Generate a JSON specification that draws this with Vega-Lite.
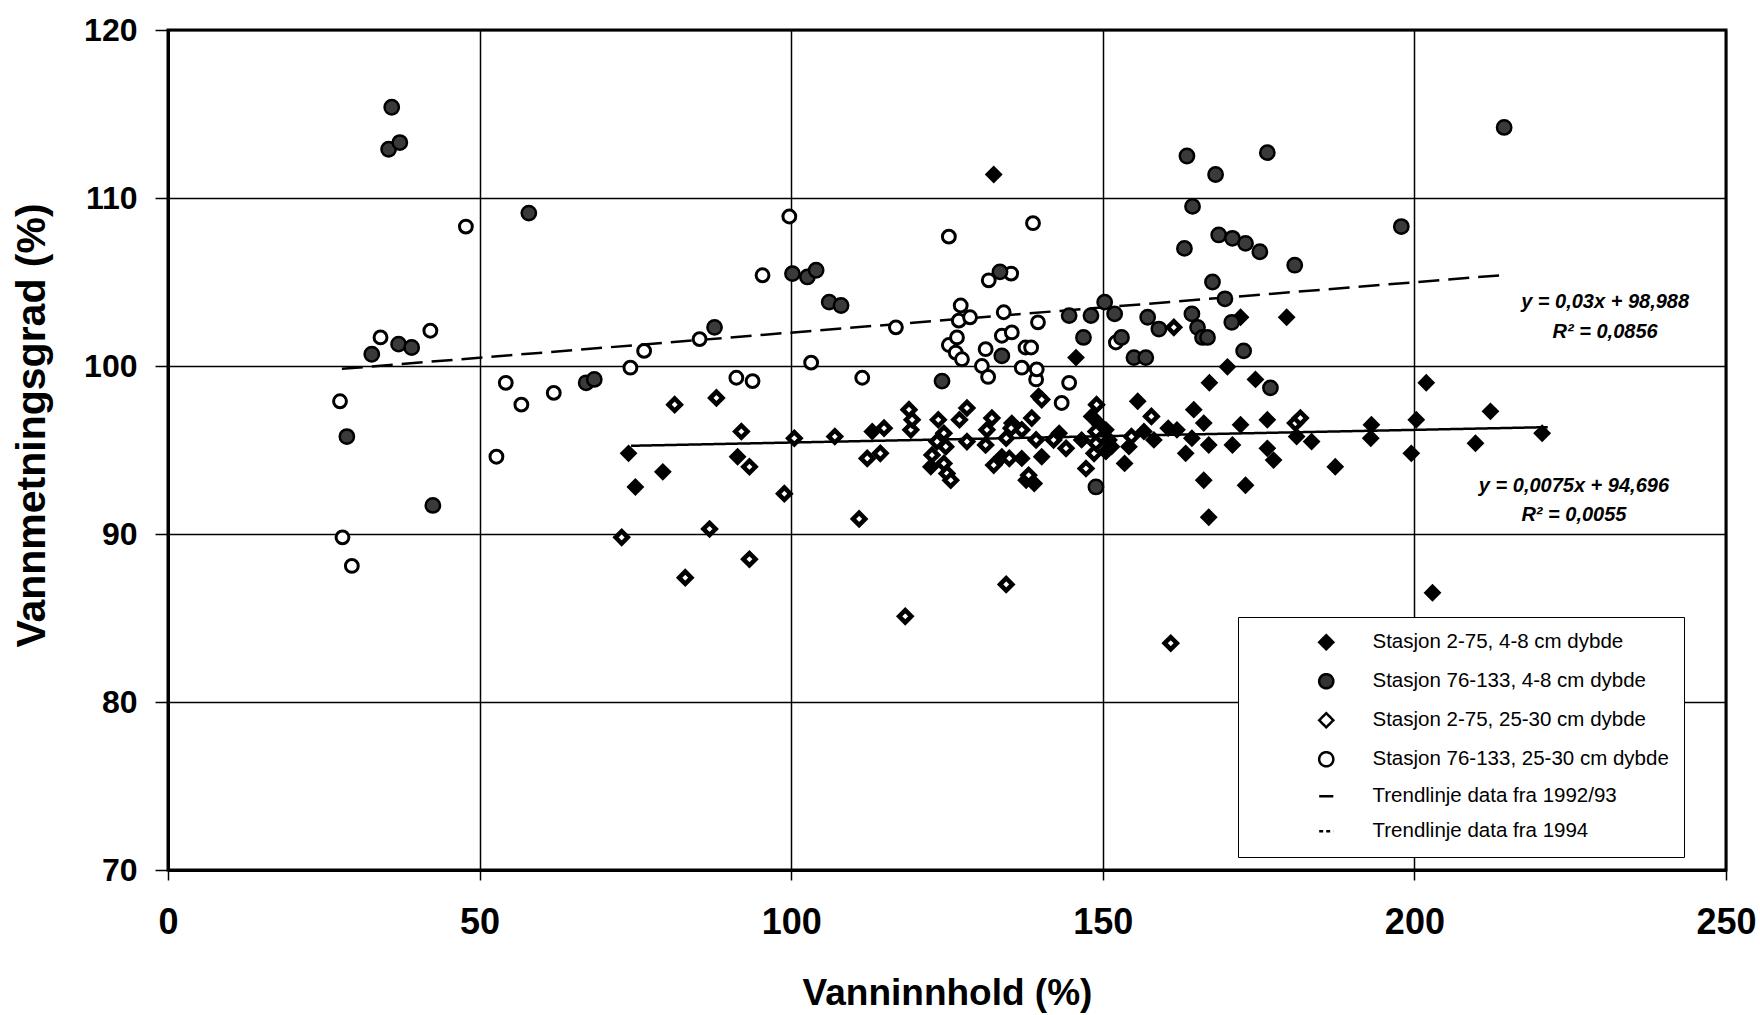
{
  "$schema": "https://vega.github.io/schema/vega-lite/v6.json",
  "width": 1558,
  "height": 840,
  "autosize": "none",
  "padding": {"left": 168, "top": 30, "right": 34, "bottom": 145},
  "background": "white",
  "config": {
    "font": "Liberation Sans",
    "view": {"stroke": "black", "strokeWidth": 3}
  },
  "datasets": {
    "eq": [
      {"eq": "y = 0,03x + 98,988", "x": 230.6, "y": 103.8},
      {"eq": "R² = 0,0856", "x": 230.6, "y": 102.0},
      {"eq": "y = 0,0075x + 94,696", "x": 225.6, "y": 92.86},
      {"eq": "R² = 0,0055", "x": 225.6, "y": 91.13}
    ],
    "trend": [
      {"serie": "Trendlinje data fra 1992/93", "x": 74.3, "y": 95.25},
      {"serie": "Trendlinje data fra 1992/93", "x": 221.4, "y": 96.36},
      {"serie": "Trendlinje data fra 1994", "x": 27.9, "y": 99.83},
      {"serie": "Trendlinje data fra 1994", "x": 214.5, "y": 105.42}
    ],
    "pts": [
      {"serie": "Stasjon 2-75, 4-8 cm dybde", "x": 73.9, "y": 94.8},
      {"serie": "Stasjon 2-75, 4-8 cm dybde", "x": 75.0, "y": 92.8},
      {"serie": "Stasjon 2-75, 4-8 cm dybde", "x": 79.4, "y": 93.7},
      {"serie": "Stasjon 2-75, 4-8 cm dybde", "x": 91.4, "y": 94.6},
      {"serie": "Stasjon 2-75, 4-8 cm dybde", "x": 113.0, "y": 96.1},
      {"serie": "Stasjon 2-75, 4-8 cm dybde", "x": 122.4, "y": 94.0},
      {"serie": "Stasjon 2-75, 4-8 cm dybde", "x": 132.5, "y": 111.4},
      {"serie": "Stasjon 2-75, 4-8 cm dybde", "x": 133.8, "y": 94.6},
      {"serie": "Stasjon 2-75, 4-8 cm dybde", "x": 135.4, "y": 96.6},
      {"serie": "Stasjon 2-75, 4-8 cm dybde", "x": 137.0, "y": 94.5},
      {"serie": "Stasjon 2-75, 4-8 cm dybde", "x": 137.7, "y": 93.2},
      {"serie": "Stasjon 2-75, 4-8 cm dybde", "x": 139.0, "y": 93.0},
      {"serie": "Stasjon 2-75, 4-8 cm dybde", "x": 140.2, "y": 94.6},
      {"serie": "Stasjon 2-75, 4-8 cm dybde", "x": 139.7, "y": 98.2},
      {"serie": "Stasjon 2-75, 4-8 cm dybde", "x": 143.0, "y": 96.0},
      {"serie": "Stasjon 2-75, 4-8 cm dybde", "x": 145.7, "y": 100.5},
      {"serie": "Stasjon 2-75, 4-8 cm dybde", "x": 146.6, "y": 95.6},
      {"serie": "Stasjon 2-75, 4-8 cm dybde", "x": 148.2, "y": 97.0},
      {"serie": "Stasjon 2-75, 4-8 cm dybde", "x": 149.5, "y": 96.5},
      {"serie": "Stasjon 2-75, 4-8 cm dybde", "x": 150.5, "y": 96.2},
      {"serie": "Stasjon 2-75, 4-8 cm dybde", "x": 151.0, "y": 95.6},
      {"serie": "Stasjon 2-75, 4-8 cm dybde", "x": 151.4, "y": 95.2},
      {"serie": "Stasjon 2-75, 4-8 cm dybde", "x": 150.5, "y": 94.9},
      {"serie": "Stasjon 2-75, 4-8 cm dybde", "x": 153.5, "y": 94.2},
      {"serie": "Stasjon 2-75, 4-8 cm dybde", "x": 154.2, "y": 95.2},
      {"serie": "Stasjon 2-75, 4-8 cm dybde", "x": 155.6, "y": 97.9},
      {"serie": "Stasjon 2-75, 4-8 cm dybde", "x": 156.6, "y": 96.1},
      {"serie": "Stasjon 2-75, 4-8 cm dybde", "x": 158.2, "y": 95.6},
      {"serie": "Stasjon 2-75, 4-8 cm dybde", "x": 160.5, "y": 96.3},
      {"serie": "Stasjon 2-75, 4-8 cm dybde", "x": 161.9, "y": 96.2},
      {"serie": "Stasjon 2-75, 4-8 cm dybde", "x": 163.3, "y": 94.8},
      {"serie": "Stasjon 2-75, 4-8 cm dybde", "x": 164.3, "y": 95.7},
      {"serie": "Stasjon 2-75, 4-8 cm dybde", "x": 164.6, "y": 97.4},
      {"serie": "Stasjon 2-75, 4-8 cm dybde", "x": 166.2, "y": 96.6},
      {"serie": "Stasjon 2-75, 4-8 cm dybde", "x": 166.2, "y": 93.2},
      {"serie": "Stasjon 2-75, 4-8 cm dybde", "x": 167.0, "y": 95.3},
      {"serie": "Stasjon 2-75, 4-8 cm dybde", "x": 167.0, "y": 91.0},
      {"serie": "Stasjon 2-75, 4-8 cm dybde", "x": 167.1, "y": 99.0},
      {"serie": "Stasjon 2-75, 4-8 cm dybde", "x": 170.0, "y": 99.95},
      {"serie": "Stasjon 2-75, 4-8 cm dybde", "x": 170.8, "y": 95.3},
      {"serie": "Stasjon 2-75, 4-8 cm dybde", "x": 172.1, "y": 96.5},
      {"serie": "Stasjon 2-75, 4-8 cm dybde", "x": 172.1, "y": 102.9},
      {"serie": "Stasjon 2-75, 4-8 cm dybde", "x": 172.9, "y": 92.9},
      {"serie": "Stasjon 2-75, 4-8 cm dybde", "x": 174.5, "y": 99.2},
      {"serie": "Stasjon 2-75, 4-8 cm dybde", "x": 176.4, "y": 96.8},
      {"serie": "Stasjon 2-75, 4-8 cm dybde", "x": 176.4, "y": 95.1},
      {"serie": "Stasjon 2-75, 4-8 cm dybde", "x": 177.4, "y": 94.4},
      {"serie": "Stasjon 2-75, 4-8 cm dybde", "x": 179.5, "y": 102.9},
      {"serie": "Stasjon 2-75, 4-8 cm dybde", "x": 181.1, "y": 95.8},
      {"serie": "Stasjon 2-75, 4-8 cm dybde", "x": 183.5, "y": 95.5},
      {"serie": "Stasjon 2-75, 4-8 cm dybde", "x": 187.3, "y": 94.0},
      {"serie": "Stasjon 2-75, 4-8 cm dybde", "x": 193.0, "y": 95.7},
      {"serie": "Stasjon 2-75, 4-8 cm dybde", "x": 193.1, "y": 96.5},
      {"serie": "Stasjon 2-75, 4-8 cm dybde", "x": 199.5, "y": 94.8},
      {"serie": "Stasjon 2-75, 4-8 cm dybde", "x": 200.3, "y": 96.8},
      {"serie": "Stasjon 2-75, 4-8 cm dybde", "x": 201.9, "y": 99.0},
      {"serie": "Stasjon 2-75, 4-8 cm dybde", "x": 202.9, "y": 86.5},
      {"serie": "Stasjon 2-75, 4-8 cm dybde", "x": 209.8, "y": 95.4},
      {"serie": "Stasjon 2-75, 4-8 cm dybde", "x": 212.2, "y": 97.3},
      {"serie": "Stasjon 2-75, 4-8 cm dybde", "x": 220.5, "y": 96.0},

      {"serie": "Stasjon 76-133, 4-8 cm dybde", "x": 28.7, "y": 95.8},
      {"serie": "Stasjon 76-133, 4-8 cm dybde", "x": 32.7, "y": 100.7},
      {"serie": "Stasjon 76-133, 4-8 cm dybde", "x": 35.4, "y": 112.9},
      {"serie": "Stasjon 76-133, 4-8 cm dybde", "x": 35.9, "y": 115.4},
      {"serie": "Stasjon 76-133, 4-8 cm dybde", "x": 37.0, "y": 101.3},
      {"serie": "Stasjon 76-133, 4-8 cm dybde", "x": 37.2, "y": 113.3},
      {"serie": "Stasjon 76-133, 4-8 cm dybde", "x": 39.1, "y": 101.1},
      {"serie": "Stasjon 76-133, 4-8 cm dybde", "x": 42.5, "y": 91.7},
      {"serie": "Stasjon 76-133, 4-8 cm dybde", "x": 57.9, "y": 109.1},
      {"serie": "Stasjon 76-133, 4-8 cm dybde", "x": 67.1, "y": 99.0},
      {"serie": "Stasjon 76-133, 4-8 cm dybde", "x": 68.4, "y": 99.2},
      {"serie": "Stasjon 76-133, 4-8 cm dybde", "x": 87.7, "y": 102.3},
      {"serie": "Stasjon 76-133, 4-8 cm dybde", "x": 100.2, "y": 105.5},
      {"serie": "Stasjon 76-133, 4-8 cm dybde", "x": 102.6, "y": 105.3},
      {"serie": "Stasjon 76-133, 4-8 cm dybde", "x": 104.0, "y": 105.7},
      {"serie": "Stasjon 76-133, 4-8 cm dybde", "x": 106.1, "y": 103.8},
      {"serie": "Stasjon 76-133, 4-8 cm dybde", "x": 108.0, "y": 103.6},
      {"serie": "Stasjon 76-133, 4-8 cm dybde", "x": 124.2, "y": 99.1},
      {"serie": "Stasjon 76-133, 4-8 cm dybde", "x": 133.5, "y": 105.6},
      {"serie": "Stasjon 76-133, 4-8 cm dybde", "x": 133.8, "y": 100.6},
      {"serie": "Stasjon 76-133, 4-8 cm dybde", "x": 144.6, "y": 103.0},
      {"serie": "Stasjon 76-133, 4-8 cm dybde", "x": 146.9, "y": 101.7},
      {"serie": "Stasjon 76-133, 4-8 cm dybde", "x": 148.1, "y": 103.0},
      {"serie": "Stasjon 76-133, 4-8 cm dybde", "x": 148.9, "y": 92.8},
      {"serie": "Stasjon 76-133, 4-8 cm dybde", "x": 150.3, "y": 103.8},
      {"serie": "Stasjon 76-133, 4-8 cm dybde", "x": 151.9, "y": 103.1},
      {"serie": "Stasjon 76-133, 4-8 cm dybde", "x": 153.0, "y": 101.7},
      {"serie": "Stasjon 76-133, 4-8 cm dybde", "x": 155.0, "y": 100.5},
      {"serie": "Stasjon 76-133, 4-8 cm dybde", "x": 156.9, "y": 100.5},
      {"serie": "Stasjon 76-133, 4-8 cm dybde", "x": 157.2, "y": 102.9},
      {"serie": "Stasjon 76-133, 4-8 cm dybde", "x": 159.0, "y": 102.2},
      {"serie": "Stasjon 76-133, 4-8 cm dybde", "x": 163.1, "y": 107.0},
      {"serie": "Stasjon 76-133, 4-8 cm dybde", "x": 163.5, "y": 112.5},
      {"serie": "Stasjon 76-133, 4-8 cm dybde", "x": 164.3, "y": 103.1},
      {"serie": "Stasjon 76-133, 4-8 cm dybde", "x": 164.4, "y": 109.5},
      {"serie": "Stasjon 76-133, 4-8 cm dybde", "x": 165.2, "y": 102.3},
      {"serie": "Stasjon 76-133, 4-8 cm dybde", "x": 166.0, "y": 101.7},
      {"serie": "Stasjon 76-133, 4-8 cm dybde", "x": 166.8, "y": 101.7},
      {"serie": "Stasjon 76-133, 4-8 cm dybde", "x": 167.6, "y": 105.0},
      {"serie": "Stasjon 76-133, 4-8 cm dybde", "x": 168.1, "y": 111.4},
      {"serie": "Stasjon 76-133, 4-8 cm dybde", "x": 168.6, "y": 107.8},
      {"serie": "Stasjon 76-133, 4-8 cm dybde", "x": 169.6, "y": 104.0},
      {"serie": "Stasjon 76-133, 4-8 cm dybde", "x": 170.7, "y": 102.6},
      {"serie": "Stasjon 76-133, 4-8 cm dybde", "x": 170.8, "y": 107.6},
      {"serie": "Stasjon 76-133, 4-8 cm dybde", "x": 172.6, "y": 100.9},
      {"serie": "Stasjon 76-133, 4-8 cm dybde", "x": 172.9, "y": 107.3},
      {"serie": "Stasjon 76-133, 4-8 cm dybde", "x": 175.2, "y": 106.8},
      {"serie": "Stasjon 76-133, 4-8 cm dybde", "x": 176.4, "y": 112.7},
      {"serie": "Stasjon 76-133, 4-8 cm dybde", "x": 176.9, "y": 98.7},
      {"serie": "Stasjon 76-133, 4-8 cm dybde", "x": 180.8, "y": 106.0},
      {"serie": "Stasjon 76-133, 4-8 cm dybde", "x": 197.9, "y": 108.3},
      {"serie": "Stasjon 76-133, 4-8 cm dybde", "x": 214.4, "y": 114.2},

      {"serie": "Stasjon 2-75, 25-30 cm dybde", "x": 72.8, "y": 89.8},
      {"serie": "Stasjon 2-75, 25-30 cm dybde", "x": 81.3, "y": 97.7},
      {"serie": "Stasjon 2-75, 25-30 cm dybde", "x": 83.0, "y": 87.4},
      {"serie": "Stasjon 2-75, 25-30 cm dybde", "x": 86.9, "y": 90.3},
      {"serie": "Stasjon 2-75, 25-30 cm dybde", "x": 88.0, "y": 98.1},
      {"serie": "Stasjon 2-75, 25-30 cm dybde", "x": 92.0, "y": 96.1},
      {"serie": "Stasjon 2-75, 25-30 cm dybde", "x": 93.3, "y": 94.0},
      {"serie": "Stasjon 2-75, 25-30 cm dybde", "x": 93.3, "y": 88.5},
      {"serie": "Stasjon 2-75, 25-30 cm dybde", "x": 98.9, "y": 92.4},
      {"serie": "Stasjon 2-75, 25-30 cm dybde", "x": 100.5, "y": 95.7},
      {"serie": "Stasjon 2-75, 25-30 cm dybde", "x": 107.0, "y": 95.8},
      {"serie": "Stasjon 2-75, 25-30 cm dybde", "x": 110.9, "y": 90.9},
      {"serie": "Stasjon 2-75, 25-30 cm dybde", "x": 112.2, "y": 94.5},
      {"serie": "Stasjon 2-75, 25-30 cm dybde", "x": 114.3, "y": 94.8},
      {"serie": "Stasjon 2-75, 25-30 cm dybde", "x": 114.9, "y": 96.3},
      {"serie": "Stasjon 2-75, 25-30 cm dybde", "x": 118.3, "y": 85.1},
      {"serie": "Stasjon 2-75, 25-30 cm dybde", "x": 118.9, "y": 97.4},
      {"serie": "Stasjon 2-75, 25-30 cm dybde", "x": 119.2, "y": 96.2},
      {"serie": "Stasjon 2-75, 25-30 cm dybde", "x": 119.4, "y": 96.8},
      {"serie": "Stasjon 2-75, 25-30 cm dybde", "x": 122.6, "y": 94.7},
      {"serie": "Stasjon 2-75, 25-30 cm dybde", "x": 123.4, "y": 95.5},
      {"serie": "Stasjon 2-75, 25-30 cm dybde", "x": 123.6, "y": 96.8},
      {"serie": "Stasjon 2-75, 25-30 cm dybde", "x": 124.5, "y": 96.0},
      {"serie": "Stasjon 2-75, 25-30 cm dybde", "x": 124.5, "y": 94.2},
      {"serie": "Stasjon 2-75, 25-30 cm dybde", "x": 124.8, "y": 95.2},
      {"serie": "Stasjon 2-75, 25-30 cm dybde", "x": 125.0, "y": 93.6},
      {"serie": "Stasjon 2-75, 25-30 cm dybde", "x": 125.6, "y": 93.2},
      {"serie": "Stasjon 2-75, 25-30 cm dybde", "x": 127.0, "y": 96.8},
      {"serie": "Stasjon 2-75, 25-30 cm dybde", "x": 128.2, "y": 97.5},
      {"serie": "Stasjon 2-75, 25-30 cm dybde", "x": 128.2, "y": 95.5},
      {"serie": "Stasjon 2-75, 25-30 cm dybde", "x": 131.2, "y": 95.3},
      {"serie": "Stasjon 2-75, 25-30 cm dybde", "x": 131.4, "y": 96.2},
      {"serie": "Stasjon 2-75, 25-30 cm dybde", "x": 132.2, "y": 96.9},
      {"serie": "Stasjon 2-75, 25-30 cm dybde", "x": 132.5, "y": 94.1},
      {"serie": "Stasjon 2-75, 25-30 cm dybde", "x": 134.5, "y": 95.7},
      {"serie": "Stasjon 2-75, 25-30 cm dybde", "x": 134.5, "y": 87.0},
      {"serie": "Stasjon 2-75, 25-30 cm dybde", "x": 135.0, "y": 94.5},
      {"serie": "Stasjon 2-75, 25-30 cm dybde", "x": 135.3, "y": 96.3},
      {"serie": "Stasjon 2-75, 25-30 cm dybde", "x": 137.0, "y": 96.2},
      {"serie": "Stasjon 2-75, 25-30 cm dybde", "x": 138.1, "y": 93.5},
      {"serie": "Stasjon 2-75, 25-30 cm dybde", "x": 138.6, "y": 96.9},
      {"serie": "Stasjon 2-75, 25-30 cm dybde", "x": 139.3, "y": 95.6},
      {"serie": "Stasjon 2-75, 25-30 cm dybde", "x": 140.2, "y": 98.0},
      {"serie": "Stasjon 2-75, 25-30 cm dybde", "x": 142.1, "y": 95.6},
      {"serie": "Stasjon 2-75, 25-30 cm dybde", "x": 144.1, "y": 95.1},
      {"serie": "Stasjon 2-75, 25-30 cm dybde", "x": 147.3, "y": 93.9},
      {"serie": "Stasjon 2-75, 25-30 cm dybde", "x": 148.6, "y": 94.8},
      {"serie": "Stasjon 2-75, 25-30 cm dybde", "x": 148.9, "y": 96.1},
      {"serie": "Stasjon 2-75, 25-30 cm dybde", "x": 148.9, "y": 95.4},
      {"serie": "Stasjon 2-75, 25-30 cm dybde", "x": 149.0, "y": 97.7},
      {"serie": "Stasjon 2-75, 25-30 cm dybde", "x": 154.6, "y": 95.8},
      {"serie": "Stasjon 2-75, 25-30 cm dybde", "x": 157.8, "y": 97.0},
      {"serie": "Stasjon 2-75, 25-30 cm dybde", "x": 160.9, "y": 83.5},
      {"serie": "Stasjon 2-75, 25-30 cm dybde", "x": 161.4, "y": 102.3},
      {"serie": "Stasjon 2-75, 25-30 cm dybde", "x": 180.9, "y": 96.6},
      {"serie": "Stasjon 2-75, 25-30 cm dybde", "x": 181.7, "y": 96.9},

      {"serie": "Stasjon 76-133, 25-30 cm dybde", "x": 27.6, "y": 97.9},
      {"serie": "Stasjon 76-133, 25-30 cm dybde", "x": 28.0, "y": 89.8},
      {"serie": "Stasjon 76-133, 25-30 cm dybde", "x": 29.5, "y": 88.1},
      {"serie": "Stasjon 76-133, 25-30 cm dybde", "x": 34.1, "y": 101.7},
      {"serie": "Stasjon 76-133, 25-30 cm dybde", "x": 42.1, "y": 102.1},
      {"serie": "Stasjon 76-133, 25-30 cm dybde", "x": 47.8, "y": 108.3},
      {"serie": "Stasjon 76-133, 25-30 cm dybde", "x": 52.7, "y": 94.6},
      {"serie": "Stasjon 76-133, 25-30 cm dybde", "x": 54.2, "y": 99.0},
      {"serie": "Stasjon 76-133, 25-30 cm dybde", "x": 56.7, "y": 97.7},
      {"serie": "Stasjon 76-133, 25-30 cm dybde", "x": 61.9, "y": 98.4},
      {"serie": "Stasjon 76-133, 25-30 cm dybde", "x": 74.2, "y": 99.9},
      {"serie": "Stasjon 76-133, 25-30 cm dybde", "x": 76.4, "y": 100.9},
      {"serie": "Stasjon 76-133, 25-30 cm dybde", "x": 85.3, "y": 101.6},
      {"serie": "Stasjon 76-133, 25-30 cm dybde", "x": 91.2, "y": 99.3},
      {"serie": "Stasjon 76-133, 25-30 cm dybde", "x": 93.8, "y": 99.1},
      {"serie": "Stasjon 76-133, 25-30 cm dybde", "x": 95.4, "y": 105.4},
      {"serie": "Stasjon 76-133, 25-30 cm dybde", "x": 99.7, "y": 108.9},
      {"serie": "Stasjon 76-133, 25-30 cm dybde", "x": 103.2, "y": 100.2},
      {"serie": "Stasjon 76-133, 25-30 cm dybde", "x": 111.4, "y": 99.3},
      {"serie": "Stasjon 76-133, 25-30 cm dybde", "x": 116.8, "y": 102.3},
      {"serie": "Stasjon 76-133, 25-30 cm dybde", "x": 125.3, "y": 107.7},
      {"serie": "Stasjon 76-133, 25-30 cm dybde", "x": 125.3, "y": 101.25},
      {"serie": "Stasjon 76-133, 25-30 cm dybde", "x": 126.4, "y": 100.8},
      {"serie": "Stasjon 76-133, 25-30 cm dybde", "x": 126.6, "y": 101.7},
      {"serie": "Stasjon 76-133, 25-30 cm dybde", "x": 126.9, "y": 102.7},
      {"serie": "Stasjon 76-133, 25-30 cm dybde", "x": 127.2, "y": 103.6},
      {"serie": "Stasjon 76-133, 25-30 cm dybde", "x": 127.4, "y": 100.4},
      {"serie": "Stasjon 76-133, 25-30 cm dybde", "x": 128.7, "y": 102.9},
      {"serie": "Stasjon 76-133, 25-30 cm dybde", "x": 130.6, "y": 100.0},
      {"serie": "Stasjon 76-133, 25-30 cm dybde", "x": 131.2, "y": 101.0},
      {"serie": "Stasjon 76-133, 25-30 cm dybde", "x": 131.6, "y": 99.35},
      {"serie": "Stasjon 76-133, 25-30 cm dybde", "x": 131.7, "y": 105.1},
      {"serie": "Stasjon 76-133, 25-30 cm dybde", "x": 133.8, "y": 101.8},
      {"serie": "Stasjon 76-133, 25-30 cm dybde", "x": 134.1, "y": 103.2},
      {"serie": "Stasjon 76-133, 25-30 cm dybde", "x": 135.3, "y": 105.5},
      {"serie": "Stasjon 76-133, 25-30 cm dybde", "x": 135.4, "y": 102.0},
      {"serie": "Stasjon 76-133, 25-30 cm dybde", "x": 137.0, "y": 99.9},
      {"serie": "Stasjon 76-133, 25-30 cm dybde", "x": 137.6, "y": 101.1},
      {"serie": "Stasjon 76-133, 25-30 cm dybde", "x": 138.5, "y": 101.1},
      {"serie": "Stasjon 76-133, 25-30 cm dybde", "x": 138.8, "y": 108.5},
      {"serie": "Stasjon 76-133, 25-30 cm dybde", "x": 139.3, "y": 99.2},
      {"serie": "Stasjon 76-133, 25-30 cm dybde", "x": 139.4, "y": 99.8},
      {"serie": "Stasjon 76-133, 25-30 cm dybde", "x": 139.6, "y": 102.6},
      {"serie": "Stasjon 76-133, 25-30 cm dybde", "x": 143.4, "y": 97.8},
      {"serie": "Stasjon 76-133, 25-30 cm dybde", "x": 144.6, "y": 99.0},
      {"serie": "Stasjon 76-133, 25-30 cm dybde", "x": 152.1, "y": 101.4}
    ]
  },
  "encoding": {
    "x": {
      "field": "x", "type": "quantitative",
      "scale": {"domain": [0, 250], "nice": false, "zero": false},
      "axis": {
        "title": "Vanninnhold (%)",
        "values": [0, 50, 100, 150, 200, 250],
        "grid": true, "gridColor": "black", "gridWidth": 1.5, "gridOpacity": 1,
        "domainColor": "black", "domainWidth": 3,
        "tickColor": "black", "tickWidth": 1.5, "tickSize": 10,
        "labelFont": "Liberation Sans", "labelFontSize": 36, "labelFontWeight": "bold", "labelColor": "black",
        "labelPadding": 25, "labelFlush": false, "labelOverlap": false,
        "titleFont": "Liberation Sans", "titleFontSize": 37, "titleFontWeight": "bold", "titleColor": "black",
        "titleY": 134, "titleBaseline": "alphabetic"
      }
    },
    "y": {
      "field": "y", "type": "quantitative",
      "scale": {"domain": [70, 120], "nice": false, "zero": false},
      "axis": {
        "title": "Vannmetningsgrad (%)",
        "values": [70, 80, 90, 100, 110, 120],
        "grid": true, "gridColor": "black", "gridWidth": 1.5, "gridOpacity": 1,
        "domainColor": "black", "domainWidth": 3,
        "tickColor": "black", "tickWidth": 1.5, "tickSize": 13,
        "labelFont": "Liberation Sans", "labelFontSize": 32, "labelFontWeight": "bold", "labelColor": "black",
        "labelPadding": 18, "labelFlush": false, "labelOverlap": false,
        "titleFont": "Liberation Sans", "titleFontSize": 41, "titleFontWeight": "bold", "titleColor": "black",
        "titleX": -136, "titleY": 395, "titleBaseline": "middle", "titleAlign": "center", "titleAngle": 270
      }
    }
  },
  "layer": [
    {
      "data": {"name": "trend"},
      "mark": {"type": "line", "color": "black", "strokeWidth": 2.5},
      "encoding": {
        "strokeDash": {
          "field": "serie", "type": "nominal",
          "scale": {
            "domain": ["Trendlinje data fra 1992/93", "Trendlinje data fra 1994"],
            "range": [[1, 0], [21, 9]]
          },
          "legend": null
        },
        "detail": {"field": "serie", "type": "nominal"}
      }
    },
    {
      "data": {"name": "pts"},
      "encoding": {
        "fill": {
          "field": "serie", "type": "nominal",
          "scale": {
            "domain": ["Stasjon 2-75, 4-8 cm dybde", "Stasjon 76-133, 4-8 cm dybde", "Stasjon 2-75, 25-30 cm dybde", "Stasjon 76-133, 25-30 cm dybde"],
            "range": ["black", "#3a3a3a", "white", "white"]
          },
          "legend": null
        },
        "shape": {
          "field": "serie", "type": "nominal",
          "scale": {
            "domain": ["Stasjon 2-75, 4-8 cm dybde", "Stasjon 76-133, 4-8 cm dybde", "Stasjon 2-75, 25-30 cm dybde", "Stasjon 76-133, 25-30 cm dybde", "Trendlinje data fra 1992/93", "Trendlinje data fra 1994"],
            "range": ["diamond", "circle", "diamond", "circle", "stroke", "stroke"]
          },
          "legend": {
            "title": null,
            "orient": "none", "legendX": 1070, "legendY": 587,
            "padding": 15, "strokeColor": "black", "fillColor": "white",
            "labelFont": "Liberation Sans", "labelFontSize": 20.5, "labelColor": "black", "labelLimit": 0,
            "symbolSize": 200, "symbolStrokeWidth": 2.5, "symbolStrokeColor": "black",
            "symbolFillColor": {"expr": "datum.value == 'Stasjon 2-75, 4-8 cm dybde' ? 'black' : datum.value == 'Stasjon 76-133, 4-8 cm dybde' ? '#333333' : 'white'"},
            "symbolDash": {"expr": "datum.value == 'Trendlinje data fra 1994' ? [4, 3] : [1, 0]"},
            "symbolOffset": 63, "labelOffset": 36, "rowPadding": 14,
            "labelExpr": "datum.label + '           '"
          }
        }
      },
      "layer": [
        {
          "transform": [{"filter": "datum.serie == 'Stasjon 76-133, 25-30 cm dybde'"}],
          "mark": {"type": "point", "stroke": "black", "strokeWidth": 3, "size": 165, "opacity": 1}
        },
        {
          "transform": [{"filter": "datum.serie == 'Stasjon 2-75, 4-8 cm dybde' || datum.serie == 'Stasjon 76-133, 4-8 cm dybde'"}],
          "mark": {"type": "point", "stroke": "black", "strokeWidth": 2.5, "size": 205, "opacity": 1}
        },
        {
          "transform": [{"filter": "datum.serie == 'Stasjon 2-75, 25-30 cm dybde'"}],
          "mark": {"type": "point", "stroke": "black", "strokeWidth": 4.5, "size": 150, "opacity": 1}
        }
      ]
    },
    {
      "data": {"name": "eq"},
      "mark": {"type": "text", "font": "Liberation Sans", "fontSize": 20, "fontWeight": "bold", "fontStyle": "italic", "align": "center", "baseline": "middle", "color": "black"},
      "encoding": {"text": {"field": "eq", "type": "nominal"}}
    }
  ]
}
